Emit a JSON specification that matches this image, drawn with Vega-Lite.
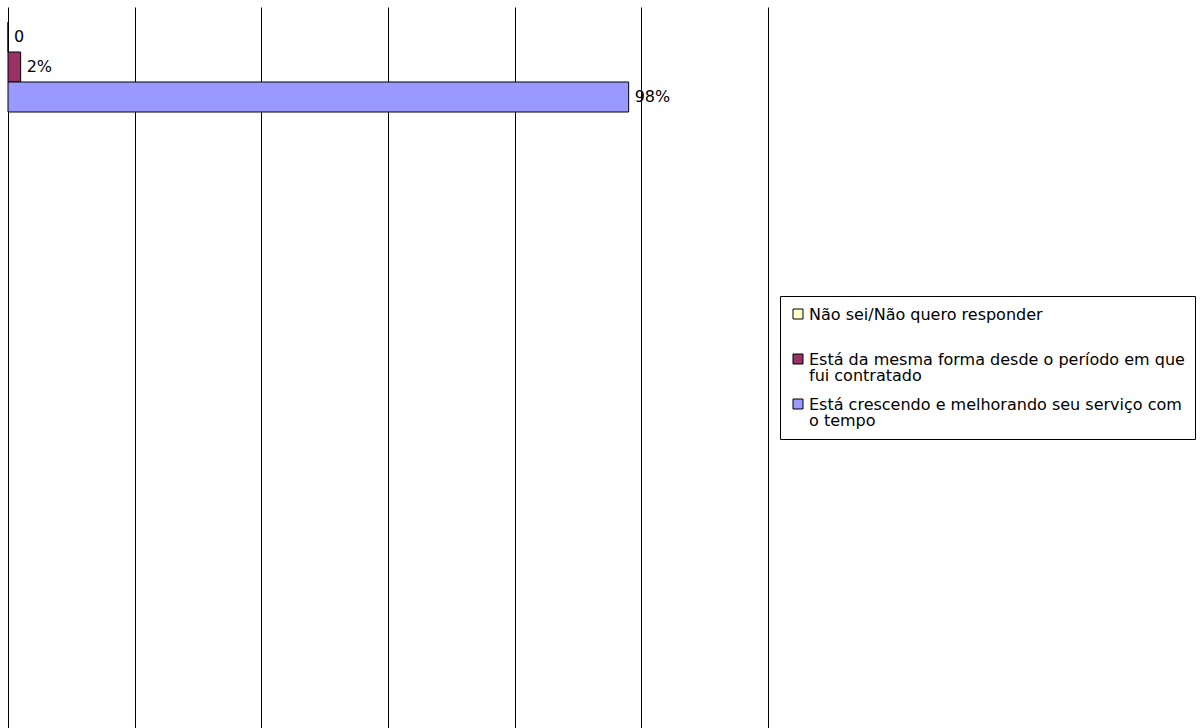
{
  "$schema": "https://vega.github.io/schema/vega-lite/v6.json",
  "width": 760,
  "height": 730,
  "padding": {"left": 7, "top": 7, "right": 0, "bottom": 0},
  "background": "white",
  "config": {
    "font": "DejaVu Sans",
    "view": {"stroke": null}
  },
  "data": {
    "values": [
      {"category": "Não sei/Não quero responder", "value": 0, "label": "0"},
      {"category": "Está da mesma forma desde o período em que fui contratado", "value": 0.02, "label": "2%"},
      {"category": "Está crescendo e melhorando seu serviço com o tempo", "value": 0.98, "label": "98%"}
    ]
  },
  "encoding": {
    "yOffset": {
      "field": "category",
      "type": "nominal",
      "sort": null,
      "scale": {"range": [-350, -260], "paddingInner": 0, "paddingOuter": 0}
    },
    "x": {
      "field": "value",
      "type": "quantitative",
      "scale": {"domain": [0, 1.2], "nice": false, "zero": true},
      "axis": {
        "values": [0, 0.2, 0.4, 0.6, 0.8, 1.0, 1.2],
        "grid": true,
        "gridColor": "black",
        "gridOpacity": 1,
        "gridWidth": 1,
        "labels": false,
        "ticks": false,
        "domain": false,
        "title": null
      }
    }
  },
  "layer": [
    {
      "mark": {"type": "bar", "stroke": "black", "strokeWidth": 1},
      "encoding": {
        "color": {
          "field": "category",
          "type": "nominal",
          "sort": null,
          "scale": {
            "domain": [
              "Não sei/Não quero responder",
              "Está da mesma forma desde o período em que fui contratado",
              "Está crescendo e melhorando seu serviço com o tempo"
            ],
            "range": ["#FFFFCC", "#993366", "#9999FF"]
          },
          "legend": {
            "title": null,
            "orient": "none",
            "legendX": 772,
            "legendY": 289,
            "padding": 10,
            "strokeColor": "black",
            "fillColor": "white",
            "symbolType": "square",
            "symbolSize": 100,
            "symbolStrokeColor": "black",
            "symbolStrokeWidth": 1,
            "symbolOpacity": 1,
            "labelFont": "DejaVu Sans",
            "labelFontSize": 16,
            "labelColor": "black",
            "labelLimit": 600,
            "labelOffset": 3,
            "rowPadding": 12,
            "labelBaseline": "alphabetic",
            "labelExpr": "datum.label == 'Está da mesma forma desde o período em que fui contratado' ? ['Está da mesma forma desde o período em que', 'fui contratado'] : datum.label == 'Está crescendo e melhorando seu serviço com o tempo' ? ['Está crescendo e melhorando seu serviço com', 'o tempo'] : [datum.label, ' ']",
            "encode": {
              "labels": {"update": {"lineHeight": {"value": 16}, "dy": {"value": 6}}}
            }
          }
        }
      }
    },
    {
      "mark": {"type": "text", "align": "left", "baseline": "middle", "dx": 6, "fontSize": 16, "font": "DejaVu Sans", "color": "black"},
      "encoding": {
        "text": {"field": "label", "type": "nominal"}
      }
    }
  ]
}
